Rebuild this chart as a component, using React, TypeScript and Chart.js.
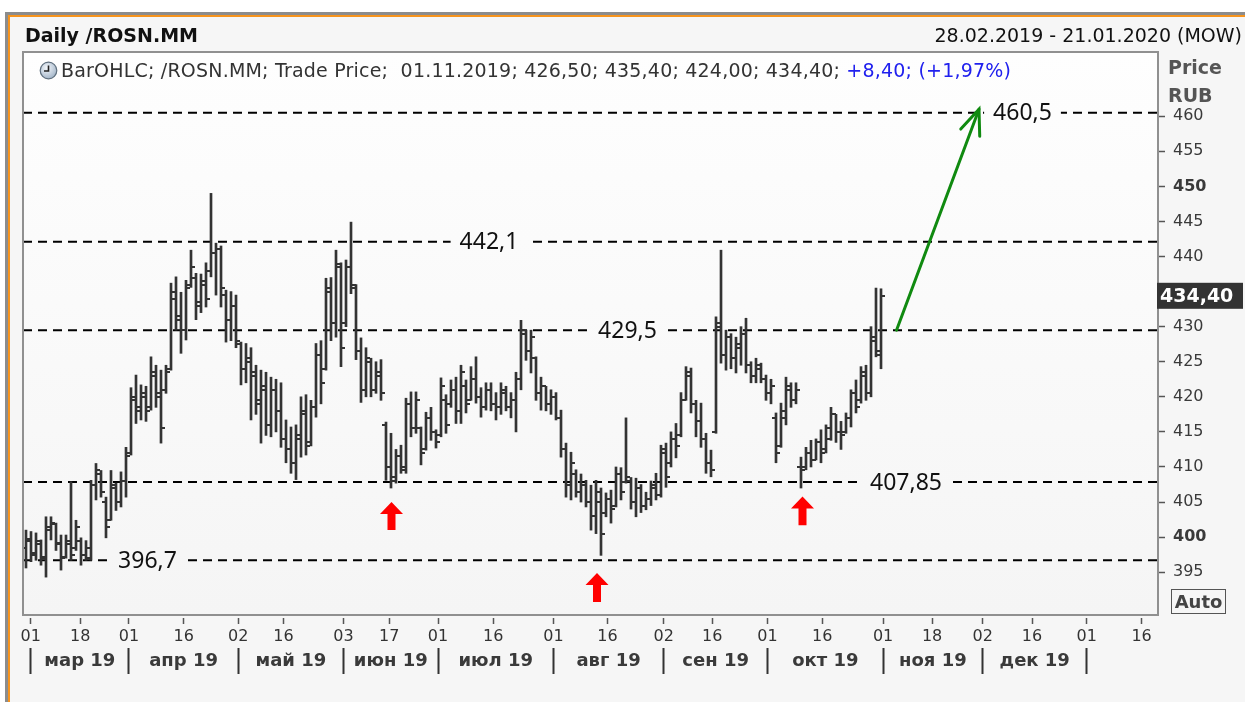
import React, { useEffect, useRef } from 'react';
import { Chart, registerables } from 'chart.js';

Chart.register(...registerables);

const W = 1245;
const H = 702;
const FONT = '"DejaVu Sans", Verdana, sans-serif';
const LABEL_FONT = '"Noto Sans", "Open Sans", sans-serif';

// Daily OHLC of /ROSN.MM, one entry per trading day, 28.02.2019 .. 01.11.2019
const opens = [
  398.5, 399.5, 397.8, 399.0, 397.0, 401.0, 401.8, 399.2, 397.2, 399.0,
  398.5, 399.5, 397.5, 397.0, 407.5, 409.0, 405.0, 402.5, 407.0, 405.0,
  408.0, 412.0, 419.5, 418.5, 420.0, 418.5, 423.0, 420.5, 421.0, 424.0,
  434.0, 431.0, 429.5, 436.0, 437.0, 433.5, 436.0, 438.0, 440.5, 441.0,
  434.5, 431.0, 433.0, 427.5, 424.0, 425.0, 423.5, 419.5, 421.0, 416.0,
  421.0, 418.0, 414.0, 412.5, 410.5, 414.0, 417.5, 413.5, 418.5, 426.0,
  424.0, 435.0, 430.5, 438.5, 430.5, 438.5, 436.0, 426.5, 421.0, 425.0,
  421.0, 423.0, 416.0, 410.0, 408.0, 411.5, 410.0, 419.0, 415.5, 415.5,
  412.5, 417.0, 415.0, 414.5, 419.5, 419.0, 421.0, 418.0, 421.5, 419.5,
  422.5, 420.0, 418.5, 421.0, 419.0, 418.5, 420.5, 418.5, 419.5, 422.5,
  429.0, 426.5, 425.5, 420.5, 421.5, 419.0, 420.0, 417.0, 412.5, 407.5,
  409.0, 406.5, 407.5, 405.0, 403.0, 405.0, 403.5, 405.5, 404.5, 409.0,
  407.8, 408.0, 405.0, 407.0, 404.5, 405.5, 407.0, 406.0, 412.0, 410.5,
  414.0, 414.5, 419.5, 423.0, 419.0, 416.5, 414.0, 410.5, 415.0, 430.5,
  426.0, 428.5, 425.5, 427.0, 429.0, 424.5, 423.0, 424.0, 422.5, 420.5,
  417.0, 413.0, 417.0, 421.0, 419.5, 410.0, 410.0, 412.0, 411.0, 413.5,
  412.5, 414.0, 417.5, 415.0, 415.0, 417.0, 420.5, 419.5, 423.0, 420.5, 428.0, 426.5,
];
const highs = [
  401.0, 400.8, 400.6, 399.6, 402.9, 402.9, 402.0, 400.3, 400.3, 407.9,
  402.4, 399.9, 399.5, 408.1, 410.5, 409.5, 405.7, 409.5, 407.7, 409.3,
  412.8, 421.3, 423.1, 421.7, 421.5, 425.7, 424.5, 423.8, 424.5, 436.2,
  437.1, 434.9, 436.6, 440.9, 437.6, 437.5, 439.1, 449.0, 441.9, 441.5,
  435.2, 435.0, 434.5, 427.8, 427.6, 427.0, 424.5, 423.8, 423.5, 422.8,
  422.5, 422.0, 416.7, 415.7, 416.0, 420.0, 420.3, 419.5, 427.6, 428.0,
  436.9, 437.0, 440.9, 439.1, 439.5, 444.9, 436.0, 428.4, 427.0, 425.5,
  425.0, 425.3, 416.4, 414.8, 412.5, 413.1, 419.8, 420.7, 420.7, 415.7,
  417.8, 418.5, 415.3, 422.7, 420.3, 422.4, 422.8, 424.5, 422.4, 424.3,
  425.7, 421.3, 422.0, 422.0, 420.6, 422.0, 421.5, 420.6, 423.5, 430.9,
  429.5, 429.5, 425.7, 422.8, 421.5, 421.0, 420.6, 418.1, 413.4, 412.1,
  409.6, 409.0, 408.1, 407.4, 408.1, 407.0, 406.3, 406.7, 410.0, 409.9,
  417.0, 408.5, 408.4, 407.5, 406.4, 408.0, 409.1, 413.1, 413.4, 415.0,
  416.2, 420.6, 424.3, 424.1, 419.5, 419.1, 414.8, 412.4, 431.4, 440.9,
  429.5, 429.0, 428.5, 430.0, 431.2, 425.0, 425.5, 424.8, 423.1, 422.5,
  417.7, 419.1, 422.8, 422.0, 422.0, 411.4, 412.8, 413.8, 414.0, 415.3,
  416.0, 418.5, 417.5, 416.5, 417.7, 421.0, 422.4, 424.3, 424.5, 430.0, 435.5, 435.4,
];
const lows = [
  395.6, 396.5, 396.7, 396.0, 394.3, 399.6, 398.1, 395.3, 397.0, 396.7,
  398.1, 396.0, 396.7, 396.7, 405.3, 405.7, 399.9, 402.4, 403.8, 404.3,
  405.7, 411.7, 416.2, 416.7, 416.5, 418.1, 418.5, 413.4, 420.5, 423.8,
  429.5, 426.2, 428.1, 435.6, 431.0, 432.0, 432.8, 437.1, 434.5, 432.8,
  427.8, 428.0, 427.0, 421.7, 422.0, 416.7, 417.5, 413.4, 414.5, 414.3,
  415.0, 412.8, 410.6, 409.1, 408.2, 411.4, 411.7, 413.0, 417.1, 419.0,
  423.8, 428.0, 428.5, 424.3, 430.0, 434.7, 425.3, 419.2, 420.0, 420.0,
  420.5, 419.5, 408.1, 407.0, 407.7, 409.1, 409.1, 414.3, 414.8, 410.3,
  412.4, 413.8, 412.7, 414.3, 414.8, 418.5, 416.2, 416.2, 417.7, 419.5,
  419.1, 417.1, 418.1, 418.0, 416.7, 417.5, 418.0, 417.0, 415.0, 421.0,
  425.2, 423.4, 419.5, 418.1, 418.0, 417.5, 416.7, 411.4, 405.7, 405.3,
  405.7, 405.0, 404.3, 401.0, 400.5, 397.4, 402.9, 402.0, 404.3, 405.3,
  407.7, 404.0, 402.9, 403.5, 403.9, 404.5, 405.3, 405.7, 407.1, 410.0,
  411.3, 414.3, 419.5, 417.7, 414.3, 412.8, 409.1, 408.6, 414.8, 424.8,
  423.8, 424.0, 423.4, 424.5, 423.4, 422.0, 422.0, 422.0, 419.5, 419.0,
  410.6, 412.8, 416.0, 418.5, 419.0, 407.0, 409.6, 410.0, 411.0, 410.6,
  412.0, 413.8, 413.5, 412.5, 414.8, 415.7, 417.7, 419.1, 419.5, 420.0, 425.7, 424.0,
];
const closes = [
  399.8, 397.5, 399.5, 397.2, 401.5, 402.0, 399.0, 397.0, 399.5, 397.5,
  401.5, 397.5, 398.5, 407.5, 409.5, 406.5, 401.5, 407.5, 405.0, 408.0,
  411.5, 420.0, 418.0, 420.5, 418.0, 423.5, 420.0, 415.5, 423.5, 435.0,
  431.5, 429.5, 435.5, 438.5, 433.0, 436.5, 434.0, 440.5, 441.0, 435.5,
  431.0, 433.0, 428.0, 424.0, 425.5, 423.0, 419.0, 421.5, 416.0, 421.0,
  418.0, 414.0, 412.5, 410.5, 414.5, 418.0, 413.0, 418.5, 426.0, 422.0,
  435.5, 430.5, 439.0, 427.0, 438.5, 435.5, 426.5, 421.0, 425.5, 421.0,
  423.5, 420.5, 410.0, 408.5, 411.5, 409.5, 419.0, 415.5, 419.5, 412.0,
  417.0, 415.0, 413.5, 421.5, 416.0, 421.0, 418.0, 423.5, 419.0, 422.5,
  420.0, 418.5, 421.0, 419.0, 418.5, 421.0, 418.5, 419.5, 422.5, 429.5,
  426.5, 428.5, 420.5, 421.5, 419.0, 420.0, 417.0, 412.5, 407.5, 410.5,
  406.5, 407.5, 405.0, 403.0, 406.5, 400.5, 405.5, 404.0, 409.0, 406.5,
  408.5, 405.0, 407.0, 404.5, 405.5, 407.5, 406.0, 412.5, 408.5, 414.0,
  413.0, 419.5, 423.5, 419.0, 416.5, 414.0, 410.5, 409.5, 430.0, 426.0,
  428.5, 425.5, 427.5, 429.0, 424.5, 423.0, 424.5, 422.5, 420.5, 421.5,
  412.0, 418.0, 421.5, 419.5, 421.0, 409.5, 412.0, 411.0, 413.5, 412.0,
  415.5, 417.5, 415.0, 414.5, 417.0, 420.5, 418.5, 423.5, 420.5, 428.5, 426.0, 434.4,
];

// x axis (trading-day index), bottom day ticks and month row
const tickDays = [0.96, 10.84, 20.58, 31.56, 42.46, 51.48, 63.5, 72.66, 82.4, 93.46, 105.48,
  116.3, 127.56, 137.26, 148.3, 159.24, 171.42, 181.22, 191.34, 201.2, 212.16, 223.12];
const tickDayLabels = ['01', '18', '01', '16', '02', '16', '03', '17', '01', '16', '01',
  '16', '02', '16', '01', '16', '01', '18', '02', '16', '01', '16'];
const monthStarts = [0.96, 20.58, 42.46, 63.5, 82.4, 105.48, 127.56, 148.3, 171.42, 191.34, 212.16];
const monthLabels = ['мар 19', 'апр 19', 'май 19', 'июн 19', 'июл 19', 'авг 19', 'сен 19', 'окт 19', 'ноя 19', 'дек 19'];

const yTickValues = [395, 400, 405, 410, 415, 420, 425, 430, 435, 440, 445, 450, 455, 460];

// horizontal levels
const levelValues = [460.5, 442.1, 429.5, 407.85, 396.7];
const levelLabels = ['460,5', '442,1', '429,5', '407,85', '396,7'];
const levelLabelAt = [199.3, 92.6, 120.3, 176.0, 24.3];

// red up arrows (day index, tip price, base price)
const upArrowAt = [73.1, 114.2, 155.3];
const upArrowTip = [405.0, 394.9, 405.8];
const upArrowBase = [401.0, 390.75, 401.7];

// green target arrow
const targetFrom = { x: 174.1, y: 429.5 };
const targetTo = { x: 190.6, y: 461.0 };

const xMin = -0.6;
const xMax = 226.4;
const yMin = 388.9;
const yMax = 469.15;

function makeTick(left: boolean) {
  const c = document.createElement('canvas');
  c.width = 8;
  c.height = 2;
  const g = c.getContext('2d')!;
  g.fillStyle = '#333333';
  g.fillRect(left ? 0 : 4, 0, 4, 2);
  return c;
}

function plotGradient(ctx: CanvasRenderingContext2D, a: any) {
  const grad = ctx.createLinearGradient(0, a.top, 0, a.bottom);
  grad.addColorStop(0, '#fefefe');
  grad.addColorStop(1, '#f5f5f5');
  return grad;
}

const decorPlugin = {
  id: 'decor',
  beforeDraw(chart: any) {
    const { ctx, chartArea: a } = chart;
    ctx.save();
    ctx.fillStyle = '#ffffff';
    ctx.fillRect(0, 0, W, H);
    ctx.fillStyle = '#f6f6f6';
    ctx.fillRect(5, 12, W, H);
    ctx.fillStyle = '#8c8c8c';
    ctx.fillRect(5, 12, W, 3);
    ctx.fillRect(5, 12, 3, H);
    ctx.fillStyle = '#f7941d';
    ctx.fillRect(8, 15, W, 2);
    ctx.fillRect(8, 15, 2, H);
    ctx.fillStyle = plotGradient(ctx, a);
    ctx.fillRect(a.left, a.top, a.width, a.height);
    ctx.restore();
  },
  afterDatasetsDraw(chart: any) {
    const { ctx, chartArea: a } = chart;
    const xs = chart.scales.x;
    const ys = chart.scales.y;
    ctx.save();
    // level labels
    ctx.font = `23px ${LABEL_FONT}`;
    ctx.textAlign = 'center';
    ctx.textBaseline = 'middle';
    levelValues.forEach((v, i) => {
      const px = xs.getPixelForValue(levelLabelAt[i]);
      const py = ys.getPixelForValue(v);
      const w = ctx.measureText(levelLabels[i]).width + 18;
      ctx.fillStyle = plotGradient(ctx, a);
      ctx.fillRect(px - w / 2, py - 12, w, 24);
      ctx.fillStyle = '#111111';
      ctx.fillText(levelLabels[i], px, py + 1);
    });
    // red arrows
    ctx.fillStyle = '#ff0000';
    upArrowAt.forEach((xv, i) => {
      const px = xs.getPixelForValue(xv);
      const tip = ys.getPixelForValue(upArrowTip[i]);
      const base = ys.getPixelForValue(upArrowBase[i]);
      const hh = 12;
      ctx.beginPath();
      ctx.moveTo(px, tip);
      ctx.lineTo(px + 11.5, tip + hh);
      ctx.lineTo(px + 4, tip + hh);
      ctx.lineTo(px + 4, base);
      ctx.lineTo(px - 4, base);
      ctx.lineTo(px - 4, tip + hh);
      ctx.lineTo(px - 11.5, tip + hh);
      ctx.closePath();
      ctx.fill();
    });
    // green arrow head
    const x0 = xs.getPixelForValue(targetFrom.x);
    const y0 = ys.getPixelForValue(targetFrom.y);
    const x1 = xs.getPixelForValue(targetTo.x);
    const y1 = ys.getPixelForValue(targetTo.y);
    const back = Math.atan2(y0 - y1, x0 - x1);
    const wing = 27;
    const spread = (22 * Math.PI) / 180;
    ctx.strokeStyle = '#108a10';
    ctx.lineWidth = 3;
    ctx.lineCap = 'round';
    ctx.beginPath();
    ctx.moveTo(x1 + wing * Math.cos(back + spread), y1 + wing * Math.sin(back + spread));
    ctx.lineTo(x1, y1);
    ctx.lineTo(x1 + wing * Math.cos(back - spread), y1 + wing * Math.sin(back - spread));
    ctx.stroke();
    // plot frame
    ctx.strokeStyle = '#909090';
    ctx.lineWidth = 2;
    ctx.lineCap = 'butt';
    ctx.strokeRect(a.left, a.top, a.width, a.height);
    ctx.restore();
  },
  afterDraw(chart: any) {
    const { ctx } = chart;
    const ys = chart.scales.y;
    const last = closes[closes.length - 1];
    const py = ys.getPixelForValue(last);
    ctx.save();
    ctx.fillStyle = '#333333';
    ctx.fillRect(1157, py - 13, 86, 26);
    ctx.fillStyle = '#ffffff';
    ctx.font = `bold 19px ${FONT}`;
    ctx.textAlign = 'left';
    ctx.textBaseline = 'middle';
    ctx.fillText(last.toFixed(2).replace('.', ','), 1160, py + 1);
    ctx.restore();
  },
};

export default function App() {
  const ref = useRef<HTMLCanvasElement>(null);

  useEffect(() => {
    const openImg = makeTick(true);
    const closeImg = makeTick(false);
    const days = closes.map((_, i) => i);
    const monthTicks: number[] = [];
    monthStarts.forEach((m, i) => {
      monthTicks.push(m);
      if (i < monthStarts.length - 1) monthTicks.push((m + monthStarts[i + 1]) / 2);
    });

    const datasets: any[] = [
      ...levelValues.map((v) => ({
        type: 'line',
        data: [{ x: xMin, y: v }, { x: xMax, y: v }],
        borderColor: '#000000',
        borderWidth: 2,
        borderDash: [9, 6],
        pointRadius: 0,
        order: 5,
      })),
      {
        type: 'bar',
        data: days.map((i) => ({ x: i, y: [lows[i], highs[i]] })),
        backgroundColor: '#333333',
        borderWidth: 0,
        barThickness: 2,
        order: 2,
      },
      {
        type: 'scatter',
        data: days.map((i) => ({ x: i, y: opens[i] })),
        pointStyle: openImg,
        pointRadius: 3,
        order: 1,
      },
      {
        type: 'scatter',
        data: days.map((i) => ({ x: i, y: closes[i] })),
        pointStyle: closeImg,
        pointRadius: 3,
        order: 1,
      },
      {
        type: 'line',
        data: [targetFrom, targetTo],
        borderColor: '#108a10',
        borderWidth: 3,
        borderCapStyle: 'round',
        pointRadius: 0,
        order: 0,
      },
    ];

    const chart = new Chart(ref.current!, {
      type: 'bar',
      data: { datasets },
      options: {
        responsive: false,
        maintainAspectRatio: false,
        devicePixelRatio: 1,
        animation: false,
        events: [],
        layout: { padding: { left: 23, top: 52, right: 0, bottom: 0 } },
        plugins: {
          legend: { display: false },
          tooltip: { enabled: false },
          title: { display: false },
        },
        scales: {
          x: {
            type: 'linear',
            position: 'bottom',
            weight: 1,
            min: xMin,
            max: xMax,
            offset: false,
            afterBuildTicks: (s: any) => {
              s.ticks = tickDays.map((v) => ({ value: v }));
            },
            ticks: {
              autoSkip: false,
              maxRotation: 0,
              minRotation: 0,
              padding: 3,
              color: '#333333',
              font: { family: FONT, size: 16 },
              callback: (_v: any, i: number) => tickDayLabels[i],
            },
            grid: {
              display: true,
              offset: false,
              drawOnChartArea: false,
              drawTicks: true,
              tickLength: 9,
              tickColor: '#555555',
              tickWidth: 1.5,
              tickBorderDash: [0, 3, 6, 40],
            },
            border: { display: false },
            afterFit: (s: any) => {
              s.height = 33;
            },
          },
          x2: {
            type: 'linear',
            position: 'bottom',
            weight: 2,
            min: xMin,
            max: xMax,
            offset: false,
            afterBuildTicks: (s: any) => {
              s.ticks = monthTicks.map((v) => ({ value: v }));
            },
            ticks: {
              autoSkip: false,
              maxRotation: 0,
              minRotation: 0,
              padding: -23,
              color: '#3a3a3a',
              font: { family: FONT, size: 18, weight: 'bold' },
              callback: (_v: any, i: number) => (i % 2 === 1 ? monthLabels[(i - 1) / 2] : ''),
            },
            grid: {
              display: true,
              offset: false,
              drawOnChartArea: false,
              drawTicks: true,
              tickLength: 26,
              tickWidth: 2,
              tickColor: (c: any) => (c.index % 2 === 0 ? '#333333' : 'rgba(0,0,0,0)'),
            },
            border: { display: false },
            afterFit: (s: any) => {
              s.height = 54;
            },
          },
          y: {
            type: 'linear',
            position: 'right',
            min: yMin,
            max: yMax,
            afterBuildTicks: (s: any) => {
              s.ticks = yTickValues.map((v) => ({ value: v }));
            },
            ticks: {
              padding: 8,
              color: '#3a3a3a',
              font: (c: any) => ({
                family: FONT,
                size: 16,
                weight: c.tick && c.tick.value % 50 === 0 ? 'bold' : 'normal',
              }),
              callback: (v: any) => String(v),
            },
            grid: {
              display: true,
              offset: false,
              drawOnChartArea: false,
              drawTicks: true,
              tickLength: 7,
              tickColor: '#555555',
              tickWidth: 1.5,
            },
            border: { display: false },
            afterFit: (s: any) => {
              s.width = 87;
            },
          },
        },
      } as any,
      plugins: [decorPlugin],
    } as any);
    return () => chart.destroy();
  }, []);

  const txt: React.CSSProperties = {
    position: 'absolute',
    fontFamily: FONT,
    whiteSpace: 'nowrap',
    lineHeight: '22px',
  };

  return (
    <div style={{ position: 'absolute', left: 0, top: 0, width: W, height: H, overflow: 'hidden' }}>
      <canvas ref={ref} width={W} height={H} style={{ position: 'absolute', left: 0, top: 0, width: W, height: H }} />
      <div style={{ ...txt, left: 25, top: 24, fontSize: 19, fontWeight: 'bold', color: '#111' }}>Daily /ROSN.MM</div>
      <div style={{ ...txt, right: 3, top: 24, fontSize: 19, color: '#111' }}>28.02.2019 - 21.01.2020 (MOW)</div>
      <svg style={{ position: 'absolute', left: 39, top: 61 }} width={19} height={19} viewBox="0 0 19 19">
        <defs>
          <radialGradient id="clk" cx="40%" cy="35%" r="70%">
            <stop offset="0%" stopColor="#f4f7fb" />
            <stop offset="100%" stopColor="#9fb2c6" />
          </radialGradient>
        </defs>
        <circle cx={9.5} cy={9.5} r={8.3} fill="url(#clk)" stroke="#60707f" strokeWidth={1.2} />
        <path d="M9.5 4.5 L9.5 10 L5 10" fill="none" stroke="#222" strokeWidth={1.6} />
      </svg>
      <div style={{ ...txt, left: 61, top: 59, fontSize: 19, color: '#333', letterSpacing: '0.2px' }}>
        BarOHLC; /ROSN.MM; Trade Price;&nbsp; 01.11.2019; 426,50; 435,40; 424,00; 434,40;{' '}
        <span style={{ color: '#2020ee' }}>+8,40; (+1,97%)</span>
      </div>
      <div style={{ ...txt, left: 1168, top: 56, fontSize: 19, fontWeight: 'bold', color: '#555' }}>Price</div>
      <div style={{ ...txt, left: 1168, top: 84, fontSize: 19, fontWeight: 'bold', color: '#555' }}>RUB</div>
      <div
        style={{
          ...txt,
          left: 1171,
          top: 589,
          width: 53,
          height: 23,
          border: '1.5px solid #555',
          fontSize: 18,
          fontWeight: 'bold',
          color: '#444',
          textAlign: 'center',
          lineHeight: '23px',
        }}
      >
        Auto
      </div>
    </div>
  );
}
